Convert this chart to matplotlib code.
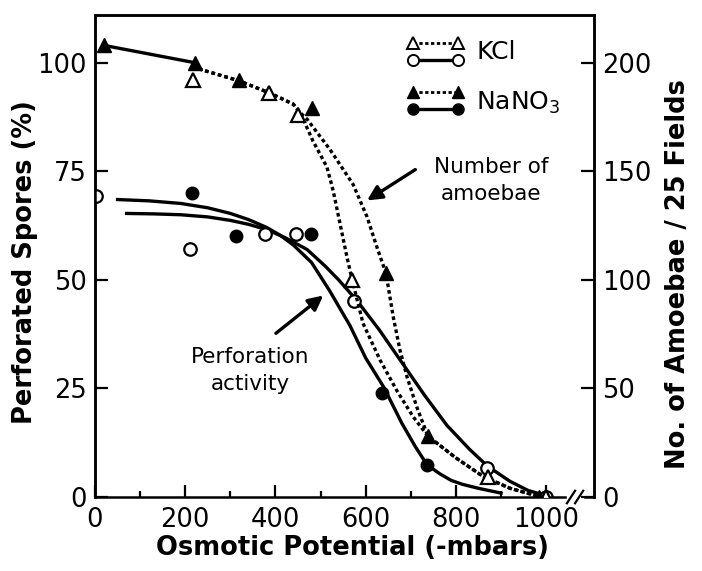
"""
Perforated spores and amoebae counts vs osmotic potential (KCl / NaNO3).
Left axis: perforation (%), right axis: amoebae per 25 fields.
"""

import matplotlib
matplotlib.use("Agg")
import matplotlib.pyplot as plt
import matplotlib.transforms as mtransforms

plt.rcParams["font.family"] = ["DejaVu Sans"]
plt.rcParams["mathtext.default"] = "regular"

# ── Data ────────────────────────────────────────────────────────────
# perforated spores (%), left axis
kcl_perf_x = [3, 211, 377, 446, 574, 869, 1000]
kcl_perf_y = [69.4, 57.2, 60.5, 60.5, 45.1, 6.7, 0]
nano3_perf_x = [215, 313, 479, 636, 736]
nano3_perf_y = [69.9, 60.0, 60.5, 23.9, 7.4]

# amoebae / 25 fields, right axis
kcl_amoeb_x = [217, 386, 450, 570, 871, 1000]
kcl_amoeb_y = [192, 186, 176, 100, 9, 0]
nano3_amoeb_x = [20, 222, 319, 481, 645, 738, 985]
nano3_amoeb_y = [208, 200, 192, 179, 103, 28, 0]

# hand-drawn fit curves (traced)
kcl_perf_fit_x = [70, 130, 190, 250, 300, 340, 380, 420, 470, 510, 540, 580, 630, 680,
                  730, 780, 830, 870, 920, 960, 1000]
kcl_perf_fit_y = [65.3, 65.2, 65.0, 64.5, 63.7, 62.8, 61.6, 59.8, 57.0, 53.2, 50.0, 45.3,
                  38.5, 31.0, 23.5, 16.5, 11.0, 7.1, 3.6, 1.5, 0.3]
nano3_perf_fit_x = [50, 120, 190, 250, 300, 340, 380, 410, 440, 480, 520, 565, 600, 640,
                    680, 710, 736, 765, 790, 815, 850, 900]
nano3_perf_fit_y = [68.5, 68.2, 67.6, 66.6, 65.3, 63.9, 62.1, 60.3, 58.0, 54.0, 47.5, 39.5,
                    32.0, 25.3, 17.0, 11.6, 7.4, 5.3, 3.8, 2.9, 2.0, 0.9]

amoeb_start_x = [20, 222]
amoeb_start_y = [208, 200]
kcl_amoeb_fit_x = [222, 233, 319, 388, 439, 455, 483, 514, 528, 543, 559, 570, 594,
                   632, 669, 705, 738, 800, 860, 920, 980, 1000]
kcl_amoeb_fit_y = [200, 197, 191.7, 186, 181, 177, 164, 152, 141, 126, 110, 100, 80,
                   63, 49, 37, 28, 18, 9.5, 4, 0.5, 0]
nano3_amoeb_fit_x = [222, 233, 319, 388, 439, 455, 470, 521, 572, 603, 625, 645, 661,
                     676, 692, 714, 738, 800, 860, 920, 980]
nano3_amoeb_fit_y = [200, 197, 191.7, 186, 181, 177, 174, 160, 144, 129, 115, 103, 83,
                     67.6, 55, 41, 28, 18, 9.5, 4, 0.5]

x_major = [0, 200, 400, 600, 800, 1000]
x_minor = [100, 300, 500, 700, 900]
left_ticks = [0, 25, 50, 75, 100]
right_ticks = [0, 50, 100, 150, 200]

# ── Styles ──────────────────────────────────────────────────────────
LW = 2.4
DOT = (0, (1.1, 0.9))
TICK_FS = 18.5
LABEL_FS = 18.5

fig = plt.figure(figsize=(7.02, 5.71), dpi=100)
ax = fig.add_axes([95 / 702, 1 - 497 / 571, 499 / 702, 482 / 571])
ax2 = ax.twinx()

ax.set_xlim(0, 1106)
ax.set_ylim(0, 111)
ax2.set_ylim(0, 222)

# perforation curves + points
ax.plot(kcl_perf_fit_x, kcl_perf_fit_y, color="black", lw=LW, zorder=2)
ax.plot(nano3_perf_fit_x, nano3_perf_fit_y, color="black", lw=LW, zorder=2)
ax.plot(kcl_perf_x, kcl_perf_y, "o", ms=9, mfc="white", mec="black", mew=1.6, zorder=4)
ax.plot(nano3_perf_x, nano3_perf_y, "o", ms=9, mfc="black", mec="black", zorder=4)

# amoebae curves + points (right axis)
ax2.plot(amoeb_start_x, amoeb_start_y, color="black", lw=LW, zorder=2)
ax2.plot(kcl_amoeb_fit_x, kcl_amoeb_fit_y, color="black", lw=LW, ls=DOT, zorder=2)
ax2.plot(nano3_amoeb_fit_x, nano3_amoeb_fit_y, color="black", lw=LW, ls=DOT, zorder=2)
ax2.plot(kcl_amoeb_x, kcl_amoeb_y, "^", ms=10, mfc="white", mec="black", mew=1.6, zorder=4)
ax2.plot(nano3_amoeb_x, nano3_amoeb_y, "^", ms=10, mfc="black", mec="black", zorder=4)

# ── Axes styling ────────────────────────────────────────────────────
for a in (ax, ax2):
    for s in a.spines.values():
        s.set_linewidth(1.8)
    a.spines["bottom"].set_visible(False)

ax.set_xticks(x_major)
ax.set_xticks(x_minor, minor=True)
ax.set_yticks(left_ticks)
ax2.set_yticks(right_ticks)
ax.tick_params(axis="both", which="major", direction="in", length=9, width=1.6,
               labelsize=TICK_FS, pad=6)
ax.tick_params(axis="x", which="minor", direction="in", length=4.5, width=1.6)
ax.tick_params(axis="x", pad=7)
ax2.tick_params(axis="y", direction="in", length=9.5, width=1.6, labelsize=TICK_FS, pad=6)

# bottom axis with a break before the right spine
trans = mtransforms.blended_transform_factory(ax.transData, ax.transAxes)
ax.plot([0, 1042], [0, 0], color="black", lw=1.8, transform=trans, clip_on=False, zorder=5)
ax.plot([1086, 1106], [0, 0], color="black", lw=1.8, transform=trans, clip_on=False, zorder=5)
for xb in (1055, 1073):
    ax.plot([xb - 9, xb + 9], [-0.013, 0.013], color="black", lw=1.6,
            transform=trans, clip_on=False, zorder=5)

fig.text(352 / 702, 1 - 548 / 571, "Osmotic Potential (-mbars)", fontsize=LABEL_FS,
         fontweight="bold", ha="center", va="center")
fig.text(25 / 702, 1 - 262 / 571, "Perforated Spores (%)", fontsize=LABEL_FS,
         fontweight="bold", ha="center", va="center", rotation=90)
fig.text(678 / 702, 1 - 274 / 571, "No. of Amoebae / 25 Fields", fontsize=LABEL_FS,
         fontweight="bold", ha="center", va="center", rotation=90)

# ── Legend (drawn by hand, two rows per salt) ───────────────────────
tA = ax.transAxes
ax.plot([0.637, 0.727], [0.942, 0.942], color="black", lw=2, ls=(0, (1.2, 0.9)),
        marker="^", ms=8, mfc="white", mec="black", mew=1.4, transform=tA, clip_on=False)
ax.plot([0.637, 0.727], [0.907, 0.907], color="black", lw=2.4,
        marker="o", ms=8, mfc="white", mec="black", mew=1.4, transform=tA, clip_on=False)
ax.text(0.764, 0.924, "KCl", fontsize=18, ha="left", va="center", transform=tA)
ax.plot([0.637, 0.727], [0.840, 0.840], color="black", lw=2, ls=(0, (1.2, 0.9)),
        marker="^", ms=8, mfc="black", mec="black", transform=tA, clip_on=False)
ax.plot([0.637, 0.727], [0.805, 0.805], color="black", lw=2.4,
        marker="o", ms=8, mfc="black", mec="black", transform=tA, clip_on=False)
ax.text(0.764, 0.818, "NaNO$_3$", fontsize=18, ha="left", va="center", transform=tA)

# ── Annotations ─────────────────────────────────────────────────────
ax.text(878, 72.9, "Number of\namoebae", fontsize=15.5, ha="center", va="center",
        linespacing=1.45)
ax.annotate("", xy=(603, 68.3), xytext=(710, 75.4),
            arrowprops=dict(arrowstyle="-|>", lw=2.4, color="black", mutation_scale=22,
                            shrinkA=0, shrinkB=0))
ax.text(344, 29.2, "Perforation\nactivity", fontsize=15.5, ha="center", va="center",
        linespacing=1.45)
ax.annotate("", xy=(506, 46.4), xytext=(401, 37.7),
            arrowprops=dict(arrowstyle="-|>", lw=2.4, color="black", mutation_scale=22,
                            shrinkA=0, shrinkB=0))

fig.savefig("out.png", dpi=100)
